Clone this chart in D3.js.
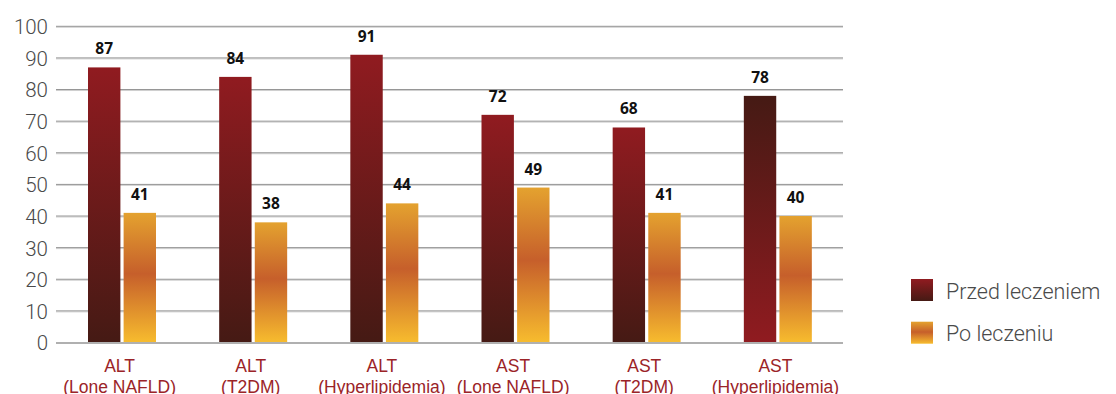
<!DOCTYPE html>
<html><head><meta charset="utf-8">
<script src="https://cdn.jsdelivr.net/npm/d3@7"></script>
<style>body{margin:0;background:#fff}svg{display:block}</style>
</head><body>
<svg id="c" width="1116" height="394"></svg>
<script>
const categories = [["ALT","(Lone NAFLD)"],["ALT","(T2DM)"],["ALT","(Hyperlipidemia)"],["AST","(Lone NAFLD)"],["AST","(T2DM)"],["AST","(Hyperlipidemia)"]];
const seriesNames = ["Przed leczeniem","Po leczeniu"];
const before = [87,84,91,72,68,78];
const after = [41,38,44,49,41,40];
const yTicks = [0,10,20,30,40,50,60,70,80,90,100];

const svg = d3.select("#c");
const defs = svg.append("defs");
function grad(id, stops){
  const g = defs.append("linearGradient").attr("id",id).attr("x1",0).attr("y1",0).attr("x2",0).attr("y2",1);
  stops.forEach(s=>g.append("stop").attr("offset",s[0]).attr("stop-color",s[1]));
}
grad("red",[[0,"#901b20"],[1,"#451a14"]]);
grad("redInv",[[0,"#451a14"],[1,"#901b20"]]);
grad("orange",[[0,"#e4a22f"],[0.47,"#c65f2b"],[1,"#f7bc2e"]]);

const x0 = d3.scaleBand().domain(d3.range(categories.length)).range([56,843]);
const x1 = d3.scaleBand().domain([0,1]).range([32,100]).paddingInner(0.09);
const y = d3.scaleLinear().domain([0,100]).range([342.5,26.3]);

// gridlines
const grid = svg.append("g");
yTicks.filter(t=>t>0).forEach(t=>{
  grid.append("line").attr("x1",56).attr("x2",843).attr("y1",y(t)+1).attr("y2",y(t)+1).attr("stroke","#d0d0d0").attr("stroke-width",1);
  grid.append("line").attr("x1",56).attr("x2",843).attr("y1",y(t)).attr("y2",y(t)).attr("stroke","#939393").attr("stroke-width",1);
});

// y axis labels
const yAxis = d3.axisLeft(y).tickValues(yTicks).tickSize(0).tickPadding(0);
const ya = svg.append("g").attr("transform","translate(48,0)").call(yAxis);
ya.select(".domain").remove();
ya.selectAll("text").attr("font-family","Roboto").attr("font-weight",300).attr("font-size",20.5).attr("fill","#4a4a4a").attr("dy","0.36em");

// bars
const data = categories.map((c,i)=>({i, vals:[before[i],after[i]]}));
const g = svg.selectAll("g.grp").data(data).join("g").attr("class","grp").attr("transform",d=>`translate(${x0(d.i)},0)`);
g.selectAll("rect").data(d=>d.vals.map((v,k)=>({v,k,i:d.i}))).join("rect")
  .attr("x",d=>x1(d.k)).attr("width",x1.bandwidth())
  .attr("y",d=>y(d.v)).attr("height",d=>y(0)-y(d.v))
  .attr("fill",d=>d.k===1?"url(#orange)":(d.i===categories.length-1?"url(#redInv)":"url(#red)"));
g.selectAll("text.val").data(d=>d.vals.map((v,k)=>({v,k}))).join("text").attr("class","val")
  .attr("x",d=>x1(d.k)+x1.bandwidth()/2).attr("y",d=>y(d.v)-13)
  .attr("text-anchor","middle").attr("font-family","Open Sans").attr("font-weight",700).attr("font-size",15.5).attr("fill","#111")
  .text(d=>d.v);

// baseline
svg.append("line").attr("x1",56).attr("x2",843).attr("y1",y(0)+0.5).attr("y2",y(0)+0.5).attr("stroke","#b0b0b0").attr("stroke-width",2);

// x labels
const xl = svg.append("g");
categories.forEach((c,i)=>{
  const cx = x0(i)+x0.bandwidth()/2-2;
  const t = xl.append("text").attr("x",cx).attr("y",372)
    .attr("text-anchor","middle").attr("font-family","Liberation Sans").attr("font-size",17.5).attr("fill","#9b2428");
  t.append("tspan").attr("x",cx).attr("dy",0).text(c[0]);
  t.append("tspan").attr("x",cx).attr("dy",21).text(c[1]);
});

// legend
const lg = svg.append("g");
["url(#red)","url(#orange)"].forEach((f,k)=>{
  lg.append("rect").attr("x",911).attr("y",279+k*42.7).attr("width",22).attr("height",22).attr("fill",f);
  lg.append("text").attr("x",946).attr("y",298.5+k*42.7).attr("font-family","Roboto").attr("font-weight",300)
    .attr("font-size",21.5).attr("fill","#4a4a4a").text(seriesNames[k]);
});
</script>
</body></html>
